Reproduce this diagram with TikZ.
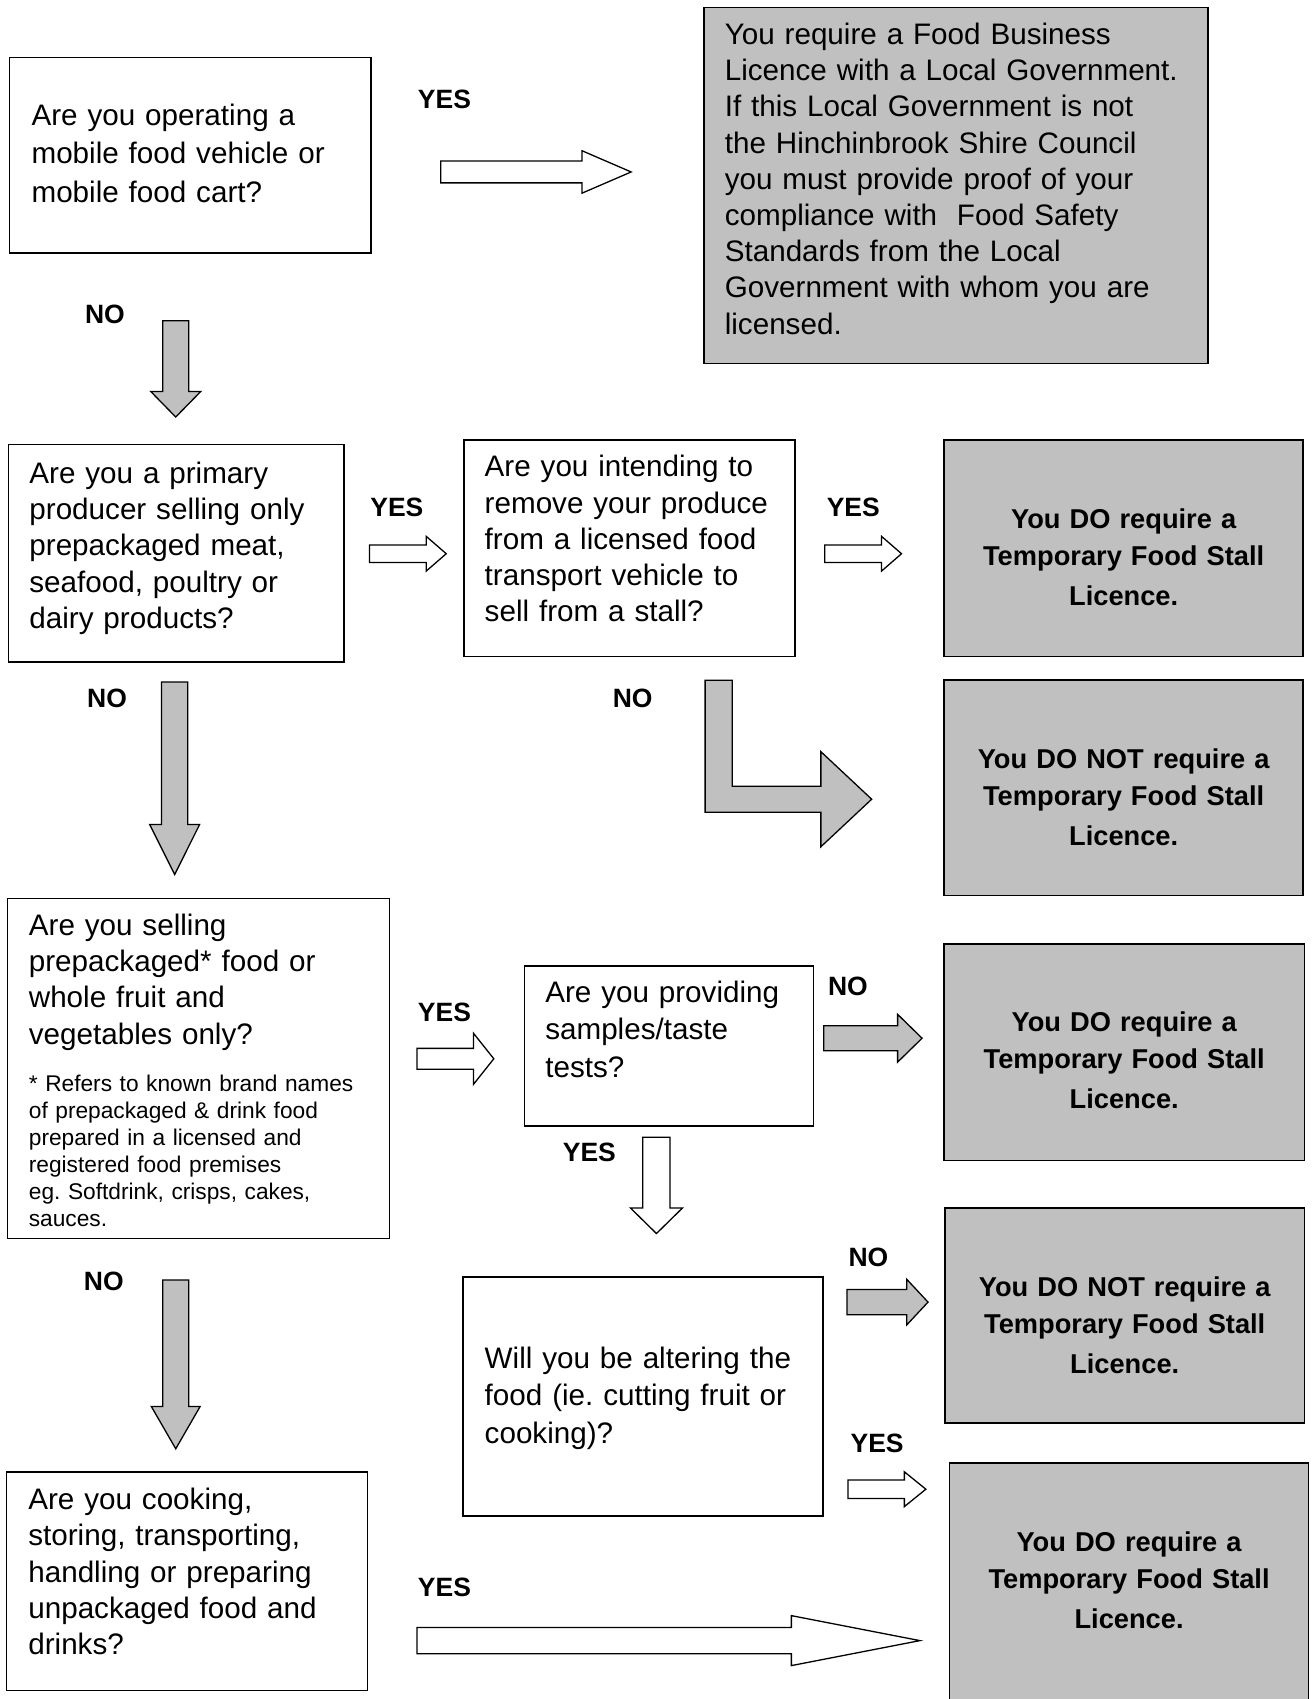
\documentclass[tikz,border=0pt]{standalone}
\usepackage{fontspec}
\setmainfont{Liberation Sans}
\usetikzlibrary{shapes.arrows}
\definecolor{boxgray}{RGB}{192,192,192}
\tikzset{
  qbox/.style={draw=black, line width=1.4pt, fill=white, inner sep=0pt},
  rbox/.style={qbox, fill=boxgray},
  qtext/.style={inner sep=0pt, anchor=base west, align=left, text width=480pt,
    font=\fontsize{27.4}{33.5}\selectfont},
  notetext/.style={qtext, font=\fontsize{21}{25}\selectfont},
  rtext/.style={inner sep=0pt, anchor=base, align=center, text width=330pt,
    font=\bfseries\fontsize{25.2}{34}\selectfont},
  yn/.style={inner sep=0pt, font=\bfseries\fontsize{24.5}{28}\selectfont},
  hollow/.style={single arrow, draw=black, line width=1.2pt, fill=white, anchor=tail,
    inner xsep=0pt, text height=0pt, text depth=0pt, minimum width=0pt},
  shaded/.style={hollow, fill=boxgray}
}
\begin{document}
\frenchspacing
\begin{tikzpicture}[x=1pt,y=-1pt]
\useasboundingbox (0,0) rectangle (1215,1571);
% boxes
\node[qbox, minimum width=334pt, minimum height=181pt] (mobile) at (176,143.5) {};
\node[rbox, minimum width=466pt, minimum height=329pt] (licence) at (884,171.5) {};
\node[qbox, minimum width=310pt, minimum height=201pt] (producer) at (163,511.5) {};
\node[qbox, minimum width=306pt, minimum height=200pt] (transport) at (582,507) {};
\node[rbox, minimum width=332pt, minimum height=200pt] (stallA) at (1039,507) {};
\node[rbox, minimum width=332pt, minimum height=199pt] (nostallA) at (1039,728.5) {};
\node[qbox, minimum width=353pt, minimum height=314pt] (prepack) at (183.5,988) {};
\node[qbox, minimum width=267pt, minimum height=148pt] (samples) at (618.5,967) {};
\node[rbox, minimum width=333pt, minimum height=200pt] (stallB) at (1039.5,973) {};
\node[qbox, minimum width=333pt, minimum height=221pt] (altering) at (594.5,1291.5) {};
\node[rbox, minimum width=332pt, minimum height=199pt] (nostallB) at (1040,1216.5) {};
\node[qbox, minimum width=334pt, minimum height=202pt] (cooking) at (173,1462) {};
\node[rbox, minimum width=332pt, minimum height=247pt] (stallC) at (1044,1476.5) {};
% questions
\node[qtext, font=\fontsize{27.4}{35.5}\selectfont] (mobiletext) at (29,116) {Are you operating a\\mobile food vehicle or\\mobile food cart?};
\node[qtext] (licencetext) at (670,41) {You require a Food Business\\Licence with a Local Government.\\If this Local Government is not\\the Hinchinbrook Shire Council\\you must provide proof of your\\compliance with~ Food Safety\\Standards from the Local\\Government with whom you are\\licensed.};
\node[qtext] (producertext) at (27,447) {Are you a primary\\producer selling only\\prepackaged meat,\\seafood, poultry or\\dairy products?};
\node[qtext] (transporttext) at (448,441) {Are you intending to\\remove your produce\\from a licensed food\\transport vehicle to\\sell from a stall?};
\node[qtext] (prepacktext) at (26.5,865) {Are you selling\\prepackaged* food or\\whole fruit and\\vegetables only?};
\node[notetext] (prepacknote) at (26.5,1009.5) {* Refers to known brand names\\of prepackaged \& drink food\\prepared in a licensed and\\registered food premises\\eg. Softdrink, crisps, cakes,\\sauces.};
\node[qtext, font=\fontsize{27.4}{34.5}\selectfont] (samplestext) at (504,927) {Are you providing\\samples/taste\\tests?};
\node[qtext, font=\fontsize{27.4}{35}\selectfont] (alteringtext) at (448,1265) {Will you be altering the\\food (ie. cutting fruit or\\cooking)?};
\node[qtext] (cookingtext) at (26,1396) {Are you cooking,\\storing, transporting,\\handling or preparing\\unpackaged food and\\drinks?};
% results
\node[rtext] (stallAtext) at (1039,489) {You DO require a\\Temporary Food Stall\\[3pt]Licence.};
\node[rtext] (nostallAtext) at (1039,711) {You DO NOT require a\\Temporary Food Stall\\[3pt]Licence.};
\node[rtext] (stallBtext) at (1039.5,954) {You DO require a\\Temporary Food Stall\\[3pt]Licence.};
\node[rtext] (nostallBtext) at (1040,1199) {You DO NOT require a\\Temporary Food Stall\\[3pt]Licence.};
\node[rtext] (stallCtext) at (1044,1435) {You DO require a\\Temporary Food Stall\\[3pt]Licence.};
% arrows
\node[hollow, minimum height=176pt, inner ysep=9.5pt, single arrow head extend=9.5pt, single arrow tip angle=46.7] (yes1) at (407,159) {};
\node[shaded, rotate=-90, minimum height=89pt, inner ysep=11.5pt, single arrow head extend=11pt, single arrow tip angle=88.8] (no1) at (162.5,296) {};
\node[hollow, minimum height=71pt, inner ysep=7.5pt, single arrow head extend=8pt, single arrow tip angle=82] (yes2) at (341,512) {};
\node[hollow, minimum height=71pt, inner ysep=7.5pt, single arrow head extend=8pt, single arrow tip angle=82] (yes3) at (762,512) {};
\node[shaded, rotate=-90, minimum height=178pt, inner ysep=11.5pt, single arrow head extend=11pt, single arrow tip angle=53.1] (no2) at (161.5,630) {};
\draw[line width=1.2pt, fill=boxgray] (652,629) -- (677,629) -- (677,727) -- (759,727) -- (759,695) -- (806,739) -- (759,783) -- (759,751) -- (652,751) -- cycle;
\node[hollow, minimum height=71pt, inner ysep=9pt, single arrow head extend=14pt, single arrow tip angle=103] (yes4) at (385,979) {};
\node[shaded, minimum height=91pt, inner ysep=11pt, single arrow head extend=10.5pt, single arrow tip angle=88.7] (no3) at (761,960) {};
\node[hollow, rotate=-90, minimum height=89pt, inner ysep=12pt, single arrow head extend=11.5pt, single arrow tip angle=91] (yes5) at (607,1051) {};
\node[shaded, minimum height=75pt, inner ysep=11pt, single arrow head extend=9.5pt, single arrow tip angle=94] (no4) at (782.5,1204) {};
\node[hollow, minimum height=72pt, inner ysep=8pt, single arrow head extend=7.5pt, single arrow tip angle=78] (yes6) at (783.5,1377) {};
\node[shaded, rotate=-90, minimum height=156pt, inner ysep=11.5pt, single arrow head extend=10.5pt, single arrow tip angle=60] (no5) at (162.5,1183) {};
\node[hollow, minimum height=465pt, inner ysep=11.5pt, single arrow head extend=11pt, single arrow tip angle=22] (yes7) at (385,1517) {};
% labels
\node[yn] (yes1label) at (411,92) {YES};
\node[yn] (no1label) at (97,291) {NO};
\node[yn] (yes2label) at (367,469) {YES};
\node[yn] (yes3label) at (789,469) {YES};
\node[yn] (no2label) at (99,646) {NO};
\node[yn] (nobendlabel) at (585,646) {NO};
\node[yn] (yes4label) at (411,936) {YES};
\node[yn] (no3label) at (784,912) {NO};
\node[yn] (yes5label) at (545,1066) {YES};
\node[yn] (no4label) at (803,1163) {NO};
\node[yn] (yes6label) at (811,1335) {YES};
\node[yn] (no5label) at (96,1185) {NO};
\node[yn] (yes7label) at (411,1468) {YES};
\end{tikzpicture}
\end{document}
